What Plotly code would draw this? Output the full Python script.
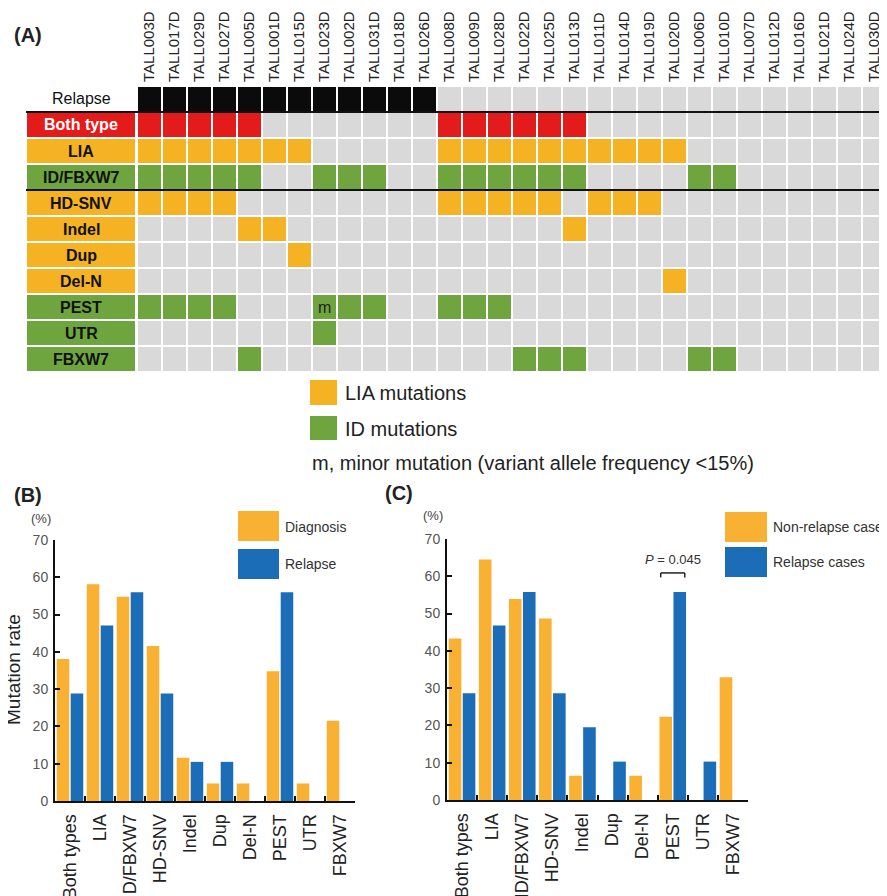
import plotly.graph_objects as go

OFF = 8  # page body margin offset in the screenshot
W, H = 887 - OFF, 896 - OFF
FONT = "Arial, Liberation Sans, sans-serif"

# ---------------- data ----------------
samples = ["TALL003D", "TALL017D", "TALL029D", "TALL027D", "TALL005D", "TALL001D",
           "TALL015D", "TALL023D", "TALL002D", "TALL031D", "TALL018D", "TALL026D",
           "TALL008D", "TALL009D", "TALL028D", "TALL022D", "TALL025D", "TALL013D",
           "TALL011D", "TALL014D", "TALL019D", "TALL020D", "TALL006D", "TALL010D",
           "TALL007D", "TALL012D", "TALL016D", "TALL021D", "TALL024D", "TALL030D"]

row_labels = ["Relapse", "Both type", "LIA", "ID/FBXW7", "HD-SNV", "Indel", "Dup",
              "Del-N", "PEST", "UTR", "FBXW7"]
row_group = ["relapse", "both", "lia", "id", "lia", "lia", "lia", "lia", "id", "id", "id"]

relapse  = [1,1,1,1,1,1,1,1,1,1,1,1, 0,0,0,0,0,0,0,0,0,0,0,0,0,0,0,0,0,0]
both     = [1,1,1,1,1,0,0,0,0,0,0,0, 1,1,1,1,1,1,0,0,0,0,0,0,0,0,0,0,0,0]
lia      = [1,1,1,1,1,1,1,0,0,0,0,0, 1,1,1,1,1,1,1,1,1,1,0,0,0,0,0,0,0,0]
id_fbxw7 = [1,1,1,1,1,0,0,1,1,1,0,0, 1,1,1,1,1,1,0,0,0,0,1,1,0,0,0,0,0,0]
hd_snv   = [1,1,1,1,0,0,0,0,0,0,0,0, 1,1,1,1,1,0,1,1,1,0,0,0,0,0,0,0,0,0]
indel    = [0,0,0,0,1,1,0,0,0,0,0,0, 0,0,0,0,0,1,0,0,0,0,0,0,0,0,0,0,0,0]
dup      = [0,0,0,0,0,0,1,0,0,0,0,0, 0,0,0,0,0,0,0,0,0,0,0,0,0,0,0,0,0,0]
del_n    = [0,0,0,0,0,0,0,0,0,0,0,0, 0,0,0,0,0,0,0,0,0,1,0,0,0,0,0,0,0,0]
pest     = [1,1,1,1,0,0,0,1,1,1,0,0, 1,1,1,0,0,0,0,0,0,0,0,0,0,0,0,0,0,0]
utr      = [0,0,0,0,0,0,0,1,0,0,0,0, 0,0,0,0,0,0,0,0,0,0,0,0,0,0,0,0,0,0]
fbxw7    = [0,0,0,0,1,0,0,0,0,0,0,0, 0,0,0,1,1,1,0,0,0,0,1,1,0,0,0,0,0,0]
minor_marks = [("PEST", "TALL023D")]

categories = ["Both types", "LIA", "ID/FBXW7", "HD-SNV", "Indel", "Dup", "Del-N",
              "PEST", "UTR", "FBXW7"]
b_diagnosis = [38.1, 58.1, 54.8, 41.6, 11.6, 4.7, 4.7, 34.8, 4.7, 21.5]
b_relapse   = [28.8, 47.1, 56.0, 28.8, 10.5, 10.5, 0, 56.0, 0, 0]
c_nonrelapse = [43.3, 64.5, 53.9, 48.7, 6.5, 0, 6.5, 22.3, 0, 32.9]
c_relapse    = [28.6, 46.8, 55.8, 28.6, 19.5, 10.3, 0, 55.8, 10.3, 0]

# ---------------- styles ----------------
GRAY = "#d9d9d9"
BLACK = "#0b0b0b"
RED = "#e41b1b"
ORANGE = "#f5b324"
GREEN = "#6ea53f"
BAR_OR = "#f8b133"
BAR_BL = "#1c6db7"
code = {"none": 0, "relapse": 1, "both": 2, "lia": 3, "id": 4}
cscale = [[0, GRAY], [0.25, BLACK], [0.5, RED], [0.75, ORANGE], [1.0, GREEN]]

rows = [relapse, both, lia, id_fbxw7, hd_snv, indel, dup, del_n, pest, utr, fbxw7]
z = [[code[row_group[r]] if v else 0 for v in rows[r]] for r in range(len(rows))]
zlab = [[None if g == "relapse" else code[g]] for g in row_group]

def px(x):
    return (x - OFF) / W

def py(y):
    return 1 - (y - OFF) / H

fig = go.Figure()

fig.add_trace(go.Heatmap(z=z, x=list(range(len(samples))), y=list(range(len(row_labels))),
                         colorscale=cscale, zmin=0, zmax=4, showscale=False,
                         xgap=2, ygap=2, xaxis="x", yaxis="y", hoverinfo="skip"))
fig.add_trace(go.Heatmap(z=zlab, x=[0], y=list(range(len(row_labels))),
                         colorscale=cscale, zmin=0, zmax=4, showscale=False,
                         xgap=0, ygap=2, xaxis="x4", yaxis="y", hoverinfo="skip"))

fig.add_trace(go.Bar(x=categories, y=b_diagnosis, marker=dict(color=BAR_OR, line=dict(width=0)),
                     xaxis="x2", yaxis="y2", name="Diagnosis", showlegend=False))
fig.add_trace(go.Bar(x=categories, y=b_relapse, marker=dict(color=BAR_BL, line=dict(width=0)),
                     xaxis="x2", yaxis="y2", name="Relapse", showlegend=False))
fig.add_trace(go.Bar(x=categories, y=c_nonrelapse, marker=dict(color=BAR_OR, line=dict(width=0)),
                     xaxis="x3", yaxis="y3", name="Non-relapse cases", showlegend=False))
fig.add_trace(go.Bar(x=categories, y=c_relapse, marker=dict(color=BAR_BL, line=dict(width=0)),
                     xaxis="x3", yaxis="y3", name="Relapse cases", showlegend=False))

bar_x = dict(type="category", tickson="boundaries", ticks="inside", ticklen=5, tickwidth=1.5,
             tickcolor="#111", showline=True, linewidth=2, linecolor="#111", tickangle=-90,
             tickfont=dict(size=18, color="#222", family=FONT), showgrid=False, zeroline=False,
             ticklabelstandoff=4)
bar_y = dict(range=[0, 70], dtick=10, ticks="inside", ticklen=5, tickwidth=1.5, tickcolor="#111",
             showline=True, linewidth=2, linecolor="#111", showgrid=False, zeroline=False,
             tickfont=dict(size=14, color="#555", family=FONT), ticklabelstandoff=2)

fig.update_layout(
    width=W, height=H, margin=dict(l=0, r=0, t=0, b=0, autoexpand=False),
    paper_bgcolor="white", plot_bgcolor="white",
    font=dict(family=FONT, color="#222"),
    barmode="group", bargap=0.07, bargroupgap=0.1,
    xaxis=dict(domain=[px(137), px(887)], range=[-0.5, 29.5], side="top", anchor="y",
               tickmode="array", tickvals=list(range(len(samples))), ticktext=samples,
               tickangle=-90, tickfont=dict(size=15, color="#222", family=FONT),
               showgrid=False, zeroline=False, ticks="", ticklabelstandoff=3),
    yaxis=dict(domain=[py(372), py(86)], range=[10.5, -0.5], showticklabels=False,
               showgrid=False, zeroline=False),
    xaxis4=dict(domain=[px(27), px(135)], range=[-0.5, 0.5], anchor="y", visible=False),
    xaxis2=dict(domain=[px(55), px(355)], anchor="y2", **bar_x),
    yaxis2=dict(domain=[py(801), py(540)], anchor="x2", **bar_y),
    xaxis3=dict(domain=[px(447), px(748)], anchor="y3", **bar_x),
    yaxis3=dict(domain=[py(800), py(539)], anchor="x3", **bar_y),
)

shapes = []
for yv in [0.5, 3.5]:
    shapes.append(dict(type="line", xref="paper", yref="y", x0=px(26), x1=1, y0=yv, y1=yv,
                       line=dict(color="#111", width=2)))
shapes.append(dict(type="rect", xref="paper", yref="paper", x0=px(310), x1=px(337),
                   y0=py(405), y1=py(380), fillcolor=ORANGE, line=dict(width=0)))
shapes.append(dict(type="rect", xref="paper", yref="paper", x0=px(310), x1=px(337),
                   y0=py(440), y1=py(416), fillcolor=GREEN, line=dict(width=0)))
for (x0, x1, y0, y1, c) in [(238, 279, 511, 541, BAR_OR), (238, 279, 549, 579, BAR_BL),
                            (725, 767, 512, 542, BAR_OR), (725, 767, 547, 577, BAR_BL)]:
    shapes.append(dict(type="rect", xref="paper", yref="paper", x0=px(x0), x1=px(x1),
                       y0=py(y1), y1=py(y0), fillcolor=c, line=dict(width=0)))
pi = categories.index("PEST")
for (xa, xb, ya, yb) in [(pi - 0.4, pi + 0.4, 60.9, 60.9), (pi - 0.4, pi - 0.4, 59.7, 60.9),
                         (pi + 0.4, pi + 0.4, 59.7, 60.9)]:
    shapes.append(dict(type="line", xref="x3", yref="y3", x0=xa, x1=xb, y0=ya, y1=yb,
                       line=dict(color="#222", width=1.5)))
fig.update_layout(shapes=shapes)

ann = []
for r, lab in enumerate(row_labels):
    bold = r > 0
    color = "white" if row_group[r] == "both" else "#111"
    ann.append(dict(xref="paper", yref="y", x=px(81), y=r, text=f"<b>{lab}</b>" if bold else lab,
                    showarrow=False, font=dict(size=16, color=color, family=FONT),
                    xanchor="center", yanchor="middle"))
for (rl, sm) in minor_marks:
    ann.append(dict(xref="x", yref="y", x=samples.index(sm), y=row_labels.index(rl), text="m",
                    showarrow=False, font=dict(size=16, color="#222", family=FONT)))

def lab(x, y, text, size, color="#222", anchor="left", angle=0):
    return dict(xref="paper", yref="paper", x=px(x), y=py(y), text=text, xanchor=anchor,
                yanchor="middle", showarrow=False, textangle=angle,
                font=dict(size=size, color=color, family=FONT))

ann += [
    lab(12, 35, "<b>(A)</b>", 20),
    lab(12, 495, "<b>(B)</b>", 20),
    lab(383, 493, "<b>(C)</b>", 20),
    lab(29, 518, "(%)", 13, "#444"),
    lab(421, 515, "(%)", 13, "#444"),
    lab(13, 670, "Mutation rate", 19, anchor="center", angle=-90),
    lab(343, 393, "LIA mutations", 20),
    lab(343, 429, "ID mutations", 20),
    lab(310, 463, "m, minor mutation (variant allele frequency &lt;15%)", 20),
    lab(283, 527, "Diagnosis", 14, "#333"),
    lab(283, 564, "Relapse", 14, "#333"),
    lab(771, 527, "Non-relapse cases", 14, "#333"),
    lab(771, 562, "Relapse cases", 14, "#333"),
    dict(xref="x3", yref="y3", x=pi, y=64.6, text="<i>P</i> = 0.045", xanchor="center",
         yanchor="middle", showarrow=False, font=dict(size=13, color="#333", family=FONT)),
]
fig.update_layout(annotations=ann)

fig.write_html("out.html")
